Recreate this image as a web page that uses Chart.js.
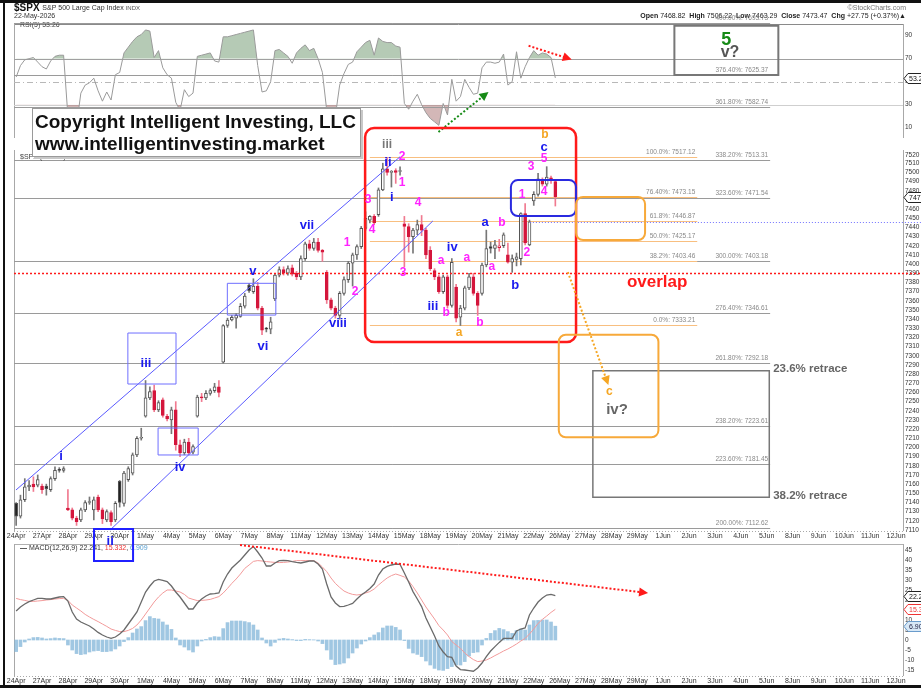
<!DOCTYPE html>
<html>
<head>
<meta charset="utf-8">
<title>$SPX 60 min</title>
<script src="https://cdn.jsdelivr.net/npm/chart.js@4.4.1/dist/chart.umd.min.js"></script>
<style>
  html, body { margin: 0; padding: 0; background: #fff; }
  #page { position: relative; width: 921px; height: 688px; overflow: hidden; background: #fff; }
  #page canvas { position: absolute; left: 0; top: 0; }
</style>
</head>
<body>
<div id="page">
  <canvas id="rsiChart" width="921" height="688"></canvas>
  <canvas id="macdChart" width="921" height="688"></canvas>
  <canvas id="priceChart" width="921" height="688"></canvas>
</div>
<script>
// ---- data (60 min bars, 6 per session) ----
const dayLabels = ['24Apr','27Apr','28Apr','29Apr','30Apr','1May','4May','5May','6May','7May','8May',
  '11May','12May','13May','14May','15May','18May','19May','20May','21May','22May','26May','27May',
  '28May','29May','1Jun','2Jun','3Jun','4Jun','5Jun','8Jun','9Jun','10Jun','11Jun','12Jun'];
const barsPerDay = 6;

const opens = [
  7139, 7125, 7143, 7157, 7160, 7159,
  7158, 7158, 7154, 7166, 7176, 7175,
  7134, 7132, 7123, 7121, 7132, 7140,
  7132, 7146, 7132, 7121, 7129, 7121,
  7163, 7139, 7165, 7172, 7192, 7210,
  7234, 7254, 7262, 7241, 7252, 7234,
  7230, 7241, 7203, 7194, 7206, 7195,
  7234, 7255, 7254, 7259, 7262, 7266,
  7293, 7333, 7339, 7341, 7343, 7354,
  7377, 7370, 7376, 7352, 7330, 7329,
  7362, 7388, 7394, 7390, 7396, 7390,
  7386, 7406, 7422, 7417, 7424, 7415,
  7391, 7361, 7352, 7344, 7368, 7383,
  7401, 7410, 7419, 7439, 7448, 7452,
  7454, 7481, 7504, 7500, 7502, 7501,
  7444, 7441, 7430, 7437, 7443, 7437,
  7415, 7393, 7386, 7370, 7386, 7355,
  7375, 7342, 7352, 7374, 7386, 7368,
  7368, 7399, 7419, 7417, 7418, 7420,
  7410, 7402, 7405, 7406, 7455, 7421,
  7468.82, 7476, 7492, 7487, 7494, 7490
];
const highs = [
  7140, 7148, 7166, 7164, 7168, 7170,
  7160, 7160, 7168, 7179, 7178, 7179,
  7154, 7134, 7125, 7134, 7142, 7146,
  7146, 7148, 7134, 7132, 7131, 7141,
  7164, 7174, 7179, 7194, 7212, 7221,
  7273, 7266, 7268, 7251, 7254, 7236,
  7244, 7250, 7208, 7209, 7210, 7203,
  7257, 7259, 7262, 7264, 7270, 7273,
  7334, 7341, 7344, 7346, 7357, 7368,
  7379, 7384, 7380, 7354, 7331, 7342,
  7390, 7397, 7397, 7398, 7399, 7392,
  7409, 7424, 7426, 7428, 7428, 7416,
  7393, 7363, 7354, 7370, 7386, 7403,
  7412, 7421, 7441, 7457, 7453, 7454,
  7483, 7510, 7517, 7502, 7504, 7506,
  7452, 7444, 7439, 7448, 7453, 7439,
  7419, 7395, 7388, 7388, 7388, 7406,
  7378, 7355, 7376, 7390, 7390, 7370,
  7401, 7437, 7424, 7426, 7427, 7434,
  7423, 7410, 7412, 7456, 7466, 7448,
  7479, 7499, 7494, 7506.22, 7496, 7492
];
const lows = [
  7115, 7123, 7141, 7153, 7152, 7157,
  7150, 7148, 7152, 7164, 7173, 7173,
  7131, 7121, 7115, 7119, 7130, 7138,
  7121, 7130, 7117, 7119, 7115, 7119,
  7135, 7136, 7163, 7170, 7190, 7208,
  7233, 7252, 7239, 7239, 7233, 7229,
  7215, 7197, 7190, 7192, 7192, 7193,
  7233, 7250, 7252, 7257, 7260, 7255,
  7292, 7331, 7338, 7330, 7342, 7352,
  7369, 7368, 7350, 7323, 7326, 7324,
  7360, 7386, 7388, 7388, 7387, 7383,
  7383, 7404, 7415, 7415, 7413, 7403,
  7357, 7350, 7341, 7340, 7366, 7380,
  7376, 7405, 7417, 7437, 7445, 7443,
  7452, 7480, 7497, 7484, 7488, 7497,
  7397, 7413, 7412, 7432, 7431, 7406,
  7393, 7383, 7368, 7368, 7352, 7353,
  7337, 7333, 7350, 7372, 7366, 7344,
  7366, 7397, 7412, 7406, 7414, 7418,
  7401, 7391, 7398, 7399, 7421, 7420,
  7464, 7474, 7485, 7485, 7488, 7463.29
];
const closes = [
  7125, 7143, 7157, 7159, 7157, 7165,
  7154, 7155, 7166, 7175, 7175, 7177,
  7132, 7123, 7119, 7132, 7140, 7141,
  7143, 7132, 7122, 7130, 7119, 7139,
  7140, 7172, 7177, 7192, 7210, 7211,
  7254, 7261, 7241, 7249, 7235, 7231,
  7241, 7203, 7194, 7206, 7194, 7201,
  7255, 7254, 7259, 7262, 7266, 7260,
  7333, 7339, 7342, 7344, 7354, 7365,
  7371, 7376, 7352, 7328, 7329, 7337,
  7388, 7394, 7390, 7395, 7389, 7386,
  7406, 7422, 7417, 7424, 7415, 7413,
  7361, 7352, 7344, 7368, 7383, 7401,
  7410, 7419, 7439, 7450, 7452, 7445,
  7481, 7504, 7500, 7501, 7500, 7502,
  7441, 7430, 7437, 7443, 7437, 7410,
  7395, 7386, 7370, 7386, 7355, 7402,
  7341, 7352, 7374, 7386, 7368, 7355,
  7399, 7417, 7417, 7421, 7420, 7432,
  7402, 7406, 7408, 7455, 7423, 7446,
  7476, 7493, 7487, 7495, 7491, 7473.47
];
const rsi5 = [
  54, 64, 69, 70, 71, 67,
  63, 61, 68, 72, 73, 73,
  20, 15, 12, 40, 47, 49,
  53, 42, 33, 41, 34, 56,
  58, 75, 80, 85, 89, 91,
  95, 94, 71, 77, 62, 56,
  53, 32, 25, 43, 37, 40,
  72, 73, 74, 75, 68, 67,
  89, 89, 90, 91, 92, 93,
  94, 95, 64, 41, 42, 50,
  77, 78, 75, 72, 66, 75,
  79, 82, 77, 79, 70, 58,
  25, 18, 20, 47, 57, 65,
  67, 76, 80, 84, 86, 73,
  88, 85, 84, 84, 81, 80,
  31, 26, 33, 39, 30, 23,
  18, 15, 12, 31, 21, 52,
  33, 37, 52, 45, 39, 40,
  62, 67, 67, 66, 67, 74,
  47, 50, 76, 53, 63, 71,
  77, 73, 75, 74, 71, 53.26
];
const macdLine = [
  14.5, 16.5, 18, 19.2, 20, 20.8,
  20.8, 20.5, 20.5, 21, 21.5, 21.7,
  19.5, 14, 10.5, 9, 8, 7,
  5.5, 3.8, 2.5, 1.5, 0.8, 1.5,
  3, 5, 8, 11, 14, 19,
  24, 27, 29.5, 30.3, 29.8, 29.2,
  27, 24, 21.5, 18.5, 15.5, 15.5,
  18.5, 20.5, 22, 23, 23.2, 23.5,
  29, 33, 36, 38, 40, 42.5,
  45, 46.7, 44, 41, 37, 37,
  38.5, 39.7, 39.8, 39.7, 39.2, 38.8,
  38.5, 39, 39.5, 39.5, 38, 35.5,
  28, 21.5, 18.5, 16.7, 16.8, 17.5,
  18.3, 20.5, 22.5, 24, 25.8, 28,
  32.5, 35.5, 36.8, 37.5, 38, 37.8,
  33.5, 29, 24.2, 20.5, 16.7, 11,
  6.5, 2, -3, -6, -8.3, -8.7,
  -13, -14.8, -15, -15.3, -15.6, -14,
  -11.5, -8.3, -5.5, -3.3, -1.2, 0.8,
  0.8, 0.8, 4.5, 5.5, 6, 12.5,
  16, 19, 21, 22.5, 22.8, 22.241
];
const signalLine = [
  20.8, 20.2, 19.8, 19.3, 19.3, 19.5,
  19.7, 20, 20.2, 20.5, 20.7, 20.8,
  19.8, 17.5, 16, 14.5, 12.8, 11.5,
  10.3, 9.2, 8, 6.8, 5.5, 4.8,
  4.2, 4.2, 4.8, 5.8, 7.5, 10,
  13, 16, 19, 21.5, 23.5, 25,
  25, 24.5, 24, 22.8, 21, 20.3,
  19.7, 19.8, 20, 20.3, 21, 21.7,
  23.5, 25.8, 28.3, 30.5, 33, 35.8,
  37.5, 39.3, 39.7, 39.5, 39.2, 39,
  38.8, 38.7, 38.8, 39, 39.3, 39.7,
  39.7, 39.7, 39.7, 39.7, 38.5, 36.5,
  34.2, 31, 28.3, 26.3, 24.5, 23.5,
  22.8, 22.5, 22.8, 23.5, 24.2, 25.5,
  27.5, 29.3, 31, 32.2, 33, 32.3,
  31.5, 29.5, 26.7, 23.5, 20, 16.5,
  13.5, 10.5, 7.2, 5, 2.5, -0.8,
  -2.5, -4.2, -6.5, -8.3, -9.8, -10.8,
  -10.5, -10, -9, -7.8, -6.7, -5.5,
  -4.5, -3.3, -2, -0.5, 0.8, 3,
  5.5, 8.3, 10.3, 12, 13.8, 15.332
];
const histogram = [
  -5.8, -3.3, -1, 0.5, 1.2, 1.3,
  1, 0.5, 0.7, 1, 0.8, 0.7,
  -2.5, -5, -6.8, -7.3, -7, -6,
  -5.5, -5.3, -5.8, -5.8, -5.5, -4.5,
  -3, -0.8, 1.2, 3.5, 5.5, 6.7,
  9.7, 11.7, 10.8, 10.5, 9, 7.5,
  5.3, 1, -2.5, -3.5, -5, -6,
  -3, -0.5, 0.3, 1.2, 1.7, 1.5,
  5.7, 8.7, 9.5, 9.5, 9.5, 9.2,
  8.7, 7.5, 5, 1, -1.5, -3,
  -1.2, 0.5, 0.8, 0.5, 0.2, -0.3,
  -0.3, 0.3, 0.2, 0.1, -0.5, -1.8,
  -5, -9.7, -12.3, -12, -11.5, -9,
  -6.5, -4, -2, -0.5, 1.2, 2.5,
  3.7, 6, 7, 7, 6.3, 5,
  -0.3, -4.2, -6.5, -7.2, -8.3, -10.5,
  -12.5, -14.2, -15, -15.2, -14.3, -13.3,
  -12.5, -12.5, -10.8, -8, -6.3, -6,
  -2.5, 0.8, 3.3, 4.7, 5.8, 5.2,
  4.2, 3.3, 4.7, 5.5, 5, 7.5,
  9.7, 9.8, 10, 10, 9, 6.909
];

const priceTicks = [7110, 7120, 7130, 7140, 7150, 7160, 7170, 7180, 7190, 7200, 7210, 7220, 7230, 7240,
  7250, 7260, 7270, 7280, 7290, 7300, 7310, 7320, 7330, 7340, 7350, 7360, 7370, 7380, 7390, 7400,
  7410, 7420, 7430, 7440, 7450, 7460, 7470, 7480, 7490, 7500, 7510, 7520];
const rsiTicks = [10, 30, 50, 70, 90];
const macdTicks = [-15, -10, -5, 0, 5, 10, 15, 20, 25, 30, 35, 40, 45];

// fibonacci levels drawn on the chart
const fibExtension = [['400.00%', 7693.73], ['376.40%', 7625.37], ['361.80%', 7582.74], ['338.20%', 7513.31],
  ['323.60%', 7471.54], ['300.00%', 7403.18], ['276.40%', 7346.61], ['261.80%', 7292.18],
  ['238.20%', 7223.61], ['223.60%', 7181.45], ['200.00%', 7112.62]];
const fibRetracement = [['100.0%', 7517.12], ['76.40%', 7473.15], ['61.8%', 7446.87], ['50.0%', 7425.17],
  ['38.2%', 7403.46], ['0.0%', 7333.21]];
const overlapLevel = 7390;
const waveTwoLevel = 7446;

// ---- look ----
const FONT = '"Liberation Sans", Arial, sans-serif';
const BLUE = '#1a1aee', MAGENTA = '#ff22ff', ORANGE = '#f5a623', GREY = '#666666', GREEN = '#168a16', RED = '#ff1a1a';
Chart.defaults.font.family = FONT;

// annotation layout, in (bar slot, price) units
const notes = {
  fibExtEnd: 174.8, fibRetStart: 82, fibRetEnd: 157.9, waveTwoFrom: 119.1,
  channels: [[-0.04, 7153.6, 89, 7517.8], [21.8, 7110, 96.6, 7447]],
  boxes: [
    [25.9, 7324.8, 37.06, 7269.2, '#6f6fff', 1, 0],
    [32.9, 7221.2, 42.2, 7191.8, '#6f6fff', 1, 0],
    [48.96, 7379, 60.2, 7344.4, '#6f6fff', 1, 0],
    [18.05, 7111.1, 27.1, 7076.2, '#2020ff', 2, 0],
    [133.7, 7283.7, 174.6, 7145.6, '#777', 1.5, 0],
    [152.6, 7690, 176.7, 7625.37, '#777', 2, 0],
    [80.9, 7555.5, 129.8, 7315.0, RED, 2.5, 9],
    [114.7, 7491.6, 129.8, 7452.4, '#2a2ae0', 2, 7],
    [129.8, 7473.1, 145.8, 7426.2, '#f7a93a', 2, 7],
    [125.8, 7322.9, 148.9, 7211.1, '#f7a93a', 2, 7]
  ],
  arrow: [127.9, 7391.3, 137.3, 7268.1],
  labels: [
    ['i', 10.4, 7190.7, BLUE], ['ii', 21.8, 7098, BLUE], ['iii', 30.1, 7292.1, BLUE], ['iv', 38, 7178.7, BLUE],
    ['v', 54.9, 7392.4, BLUE], ['vi', 57.2, 7310.6, BLUE], ['vii', 67.4, 7442.6, BLUE], ['viii', 74.6, 7335.7, BLUE],
    ['iii', 86, 7533.2, '#777'], ['ii', 86.2, 7511.3, BLUE], ['i', 87.1, 7473.1, BLUE], ['iii', 96.6, 7354.2, BLUE],
    ['iv', 101.1, 7418.6, BLUE], ['a', 108.7, 7445.8, BLUE], ['b', 115.7, 7377.1, BLUE], ['c', 122.4, 7530.5, BLUE],
    ['2', 89.5, 7517.4, MAGENTA], ['1', 89.5, 7488.4, MAGENTA], ['3', 81.6, 7469.8, MAGENTA], ['4', 82.5, 7437.1, MAGENTA],
    ['1', 76.7, 7422.9, MAGENTA], ['2', 78.6, 7369.5, MAGENTA], ['4', 93.2, 7466.6, MAGENTA], ['3', 89.7, 7390.2, MAGENTA],
    ['a', 98.5, 7403.3, MAGENTA], ['a', 104.5, 7406.6, MAGENTA], ['a', 110.3, 7396.8, MAGENTA],
    ['b', 99.7, 7346.6, MAGENTA], ['b', 107.5, 7335.7, MAGENTA], ['b', 112.6, 7444.8, MAGENTA],
    ['1', 117.3, 7475.3, MAGENTA], ['2', 118.4, 7412, MAGENTA], ['3', 119.4, 7505.8, MAGENTA],
    ['4', 122.4, 7478.6, MAGENTA], ['5', 122.4, 7514.8, MAGENTA],
    ['b', 122.6, 7546.3, ORANGE], ['a', 102.7, 7324.8, ORANGE], ['c', 137.5, 7260.5, ORANGE]
  ],
  bigLabels: [
    ['iv?', 139.3, 7240.8, GREY, 'bold 15px', 'center'],
    ['23.6% retrace', 175.5, 7285.5, GREY, 'bold 11.5px', 'left'],
    ['38.2% retrace', 175.5, 7147, GREY, 'bold 11.5px', 'left'],
    ['5', 164.6, 7671.1, GREEN, 'bold 18px', 'center'],
    ['v?', 165.5, 7654, '#555', 'bold 16px', 'center'],
    ['overlap', 148.6, 7380.4, RED, 'bold 17px', 'center']
  ]
};

// ---- helpers ----
function seg(ctx, x1, y1, x2, y2, color, width, dash) {
  ctx.save();
  ctx.beginPath();
  ctx.strokeStyle = color;
  ctx.lineWidth = width;
  ctx.setLineDash(dash || []);
  ctx.moveTo(x1, y1);
  ctx.lineTo(x2, y2);
  ctx.stroke();
  ctx.restore();
}
function arrow(ctx, x1, y1, x2, y2, color) {
  const a = Math.atan2(y2 - y1, x2 - x1);
  seg(ctx, x1, y1, x2 - Math.cos(a) * 6, y2 - Math.sin(a) * 6, color, 2, [2, 2]);
  ctx.save();
  ctx.fillStyle = color;
  ctx.beginPath();
  ctx.moveTo(x2, y2);
  ctx.lineTo(x2 - 9 * Math.cos(a) + 4.5 * Math.sin(a), y2 - 9 * Math.sin(a) - 4.5 * Math.cos(a));
  ctx.lineTo(x2 - 9 * Math.cos(a) - 4.5 * Math.sin(a), y2 - 9 * Math.sin(a) + 4.5 * Math.cos(a));
  ctx.closePath();
  ctx.fill();
  ctx.restore();
}
function frame(ctx, x1, y1, x2, y2, color, width, radius) {
  ctx.save();
  ctx.strokeStyle = color;
  ctx.lineWidth = width;
  ctx.beginPath();
  if (radius) ctx.roundRect(x1, y1, x2 - x1, y2 - y1, radius);
  else ctx.rect(x1, y1, x2 - x1, y2 - y1);
  ctx.stroke();
  ctx.restore();
}
function label(ctx, str, x, y, color, font, align) {
  ctx.save();
  ctx.fillStyle = color;
  ctx.font = font;
  ctx.textAlign = align || 'center';
  ctx.textBaseline = 'middle';
  ctx.fillText(str, x, y);
  ctx.restore();
}
function tag(ctx, x, y, str, stroke, fill, color) {
  ctx.save();
  ctx.beginPath();
  ctx.moveTo(x, y);
  ctx.lineTo(x + 4, y - 5);
  ctx.lineTo(923, y - 5);
  ctx.lineTo(923, y + 5);
  ctx.lineTo(x + 4, y + 5);
  ctx.closePath();
  ctx.fillStyle = fill;
  ctx.fill();
  ctx.strokeStyle = stroke;
  ctx.lineWidth = 1;
  ctx.stroke();
  ctx.restore();
  label(ctx, str, x + 5, y + 0.5, color, '7px ' + FONT, 'left');
}
function richLine(ctx, parts, x, y, alignRight) {
  ctx.save();
  ctx.textBaseline = 'middle';
  let w = 0;
  parts.forEach(p => { ctx.font = p[1]; w += ctx.measureText(p[0]).width; });
  let cx = alignRight ? x - w : x;
  parts.forEach(p => {
    ctx.font = p[1];
    ctx.fillStyle = p[2] || '#222';
    ctx.textAlign = 'left';
    ctx.fillText(p[0], cx, y);
    cx += ctx.measureText(p[0]).width;
  });
  ctx.restore();
}

// price axis that squeezes the area above the wave iii high, as the source chart does
class PriceScale extends Chart.LinearScale {
  getPixelForValue(value) {
    const base = super.getPixelForValue(value);
    const knee = this.options.knee;
    if (!knee || value <= knee) return base;
    const k = super.getPixelForValue(knee);
    return k - (k - base) * this.options.squeeze;
  }
}
PriceScale.id = 'pricescale';
PriceScale.defaults = {};
Chart.register(PriceScale);

const slots = opens.map((_, i) => i);
const xMax = 205.6;

function dateAxis(show) {
  return {
    type: 'linear', display: show, min: -0.5, max: xMax, offset: false,
    grid: { display: false, drawTicks: false }, border: { display: false },
    afterBuildTicks: s => { s.ticks = dayLabels.map((d, k) => ({ value: k * barsPerDay })); },
    afterFit: s => { s.height = 10; },
    ticks: {
      autoSkip: false, maxRotation: 0, padding: 1, color: '#333', font: { size: 7 },
      callback: v => dayLabels[Math.round(v / barsPerDay)]
    }
  };
}
function valueAxis(min, max, list, extra) {
  return Object.assign({
    position: 'right', min: min, max: max,
    grid: { display: false, drawTicks: false }, border: { display: false },
    afterBuildTicks: s => { s.ticks = list.map(v => ({ value: v })); },
    afterFit: s => { s.width = 18; },
    ticks: { autoSkip: false, padding: 2, color: '#333', font: { size: 6.5 }, callback: v => String(v) }
  }, extra || {});
}

// StockCharts colouring: black/red vs previous close, hollow/filled vs open
const candleLook = slots.map(i => {
  const prev = i ? closes[i - 1] : lows[0];
  const up = closes[i] >= prev;
  const filled = closes[i] < opens[i];
  return {
    fill: filled ? (up ? '#222' : '#d4163c') : '#ffffff',
    line: up ? '#555' : '#d4163c',
    wick: up ? '#777' : '#f07a90'
  };
});

// ---- price panel ----
const pricePlugin = {
  id: 'priceMarks',
  beforeDatasetsDraw(chart) {
    const { ctx, chartArea: a, scales: { x, y } } = chart;
    const X = v => x.getPixelForValue(v);
    const Y = v => Math.round(y.getPixelForValue(v)) + 0.5;
    seg(ctx, a.left + 0.5, a.top, a.left + 0.5, a.bottom, '#a8a8a8', 1);
    seg(ctx, a.right + 0.5, a.top, a.right + 0.5, a.bottom, '#a8a8a8', 1);
    seg(ctx, a.left, a.bottom + 0.5, a.right, a.bottom + 0.5, '#a8a8a8', 1, [1, 2]);
    fibExtension.forEach(([name, v]) => {
      const py = Y(v);
      seg(ctx, a.left, py, X(notes.fibExtEnd), py, '#9a9a9a', 1);
      label(ctx, name + ': ' + v.toFixed(2), X(notes.fibExtEnd) - 2, py - 5, '#888', '6.5px ' + FONT, 'right');
    });
    fibRetracement.forEach(([name, v]) => {
      const py = Y(v);
      seg(ctx, X(notes.fibRetStart), py, X(notes.fibRetEnd), py, '#f8bf80', 1);
      label(ctx, name + ': ' + v.toFixed(2), X(notes.fibRetEnd) - 2, py - 5, '#888', '6.5px ' + FONT, 'right');
    });
  },
  afterDatasetsDraw(chart) {
    const { ctx, chartArea: a, scales: { x, y } } = chart;
    const X = v => x.getPixelForValue(v);
    const Y = v => y.getPixelForValue(v);
    seg(ctx, a.left, Math.round(Y(overlapLevel)) + 0.5, 921, Math.round(Y(overlapLevel)) + 0.5, RED, 1.5, [2, 2]);
    seg(ctx, X(notes.waveTwoFrom), Math.round(Y(waveTwoLevel)) + 0.5, 921, Math.round(Y(waveTwoLevel)) + 0.5, '#7070ff', 1, [1, 2]);
    notes.channels.forEach(c => seg(ctx, X(c[0]), Y(c[1]), X(c[2]), Y(c[3]), '#5a5aff', 1));
    notes.boxes.forEach(b => frame(ctx, X(b[0]), Y(b[1]), X(b[2]), Y(b[3]), b[4], b[5], b[6]));
    const ar = notes.arrow;
    arrow(ctx, X(ar[0]), Y(ar[1]), X(ar[2]), Y(ar[3]), ORANGE);
    notes.labels.forEach(l => {
      const size = l[3] === BLUE ? 13 : 12;
      label(ctx, l[0], X(l[1]), Y(l[2]), l[3], 'bold ' + size + 'px ' + FONT);
    });
    notes.bigLabels.forEach(l => label(ctx, l[0], X(l[1]), Y(l[2]), l[3], l[4] + ' ' + FONT, l[5]));
  },
  afterDraw(chart) {
    const { ctx, chartArea: a, scales: { y } } = chart;
    label(ctx, '$SPX (60 min) 7473.47', a.left + 6, a.top + 7, '#444', '7px ' + FONT, 'left');
    // copyright box
    ctx.save();
    ctx.fillStyle = '#c8c8c8';
    ctx.fillRect(34, 110, 329, 49);
    ctx.fillStyle = '#fff';
    ctx.fillRect(32, 108, 329, 49);
    ctx.strokeStyle = '#9a9a9a';
    ctx.lineWidth = 1;
    ctx.strokeRect(32.5, 108.5, 328, 48);
    ctx.restore();
    label(ctx, 'Copyright Intelligent Investing, LLC', 35, 123, '#111', 'bold 19px ' + FONT, 'left');
    label(ctx, 'www.intelligentinvesting.market', 35, 145, '#111', 'bold 19px ' + FONT, 'left');
    const last = closes[closes.length - 1];
    tag(ctx, a.right + 1, Math.round(y.getPixelForValue(last)) + 0.5, last.toFixed(2), '#222', '#fff', '#111');
  }
};

new Chart(document.getElementById('priceChart'), {
  type: 'bar',
  data: {
    datasets: [
      {
        label: 'High-low', order: 2, grouped: false, barThickness: 1,
        data: slots.map(i => ({ x: i, y: [lows[i], highs[i]] })),
        backgroundColor: candleLook.map(c => c.wick)
      },
      {
        label: 'Open-close', order: 1, grouped: false, barThickness: 3, minBarLength: 1,
        data: slots.map(i => ({ x: i, y: [opens[i], closes[i]] })),
        backgroundColor: candleLook.map(c => c.fill),
        borderColor: candleLook.map(c => c.line),
        borderWidth: 1, borderSkipped: false
      }
    ]
  },
  options: {
    responsive: false, animation: false, devicePixelRatio: 1,
    layout: { padding: { left: 14, top: 150, right: 0, bottom: 147 } },
    plugins: { legend: { display: false }, tooltip: { enabled: false } },
    scales: {
      x: dateAxis(true),
      y: valueAxis(7108.9, 7524.4, priceTicks, { type: 'pricescale', knee: 7513.31, squeeze: 0.83 })
    }
  },
  plugins: [pricePlugin]
});

// ---- RSI panel ----
const rsiPlugin = {
  id: 'rsiMarks',
  beforeDatasetsDraw(chart) {
    const { ctx, chartArea: a, scales: { y } } = chart;
    const Y = v => Math.round(y.getPixelForValue(v)) + 0.5;
    seg(ctx, a.left, a.top + 0.5, a.right, a.top + 0.5, '#8a8a8a', 1);
    seg(ctx, a.left + 0.5, a.top, a.left + 0.5, a.bottom, '#a8a8a8', 1);
    seg(ctx, a.right + 0.5, a.top, a.right + 0.5, a.bottom, '#a8a8a8', 1);
    seg(ctx, a.left, Y(70), a.right, Y(70), '#a0a0a0', 1);
    seg(ctx, a.left, Y(50), a.right, Y(50), '#b8b8b8', 1, [6, 3, 1, 3]);
    seg(ctx, a.left, Y(30), a.right, Y(30), '#cfcfcf', 1);
  },
  afterDraw(chart) {
    const { ctx, chartArea: a, scales: { x, y } } = chart;
    const X = v => x.getPixelForValue(v);
    const Y = v => y.getPixelForValue(v);
    label(ctx, 'RSI(5) 53.26', a.left + 6, a.top + 1, '#444', '7px ' + FONT, 'left');
    arrow(ctx, X(97.9), Y(6.2), X(109.5), Y(41), GREEN);
    arrow(ctx, X(118.8), Y(81.2), X(128.8), Y(69.2), RED);
    const last = rsi5[rsi5.length - 1];
    tag(ctx, a.right + 1, Math.round(Y(last)) + 0.5, last.toFixed(2), '#222', '#fff', '#111');
    // header
    richLine(ctx, [['$SPX ', 'bold 10px ' + FONT, '#111'], ['S&P 500 Large Cap Index ', '7px ' + FONT, '#333'],
      ['INDX', '6px ' + FONT, '#555']], 14, 8, false);
    label(ctx, '22-May-2026', 14, 16, '#333', '7px ' + FONT, 'left');
    label(ctx, '\u00a9StockCharts.com', 906, 8, '#777', '7px ' + FONT, 'right');
    const b = 'bold 7px ' + FONT, n = '7px ' + FONT;
    richLine(ctx, [['Open', b], [' 7468.82  ', n], ['High', b], [' 7506.22  ', n], ['Low', b], [' 7463.29  ', n],
      ['Close', b], [' 7473.47  ', n], ['Chg', b], [' +27.75 (+0.37%)\u25b2', n]], 906, 16, true);
    // outer frame
    ctx.save();
    ctx.fillStyle = '#111';
    ctx.fillRect(0, 0, 921, 3);
    ctx.fillRect(3, 0, 2, 688);
    ctx.fillRect(0, 685, 921, 3);
    ctx.restore();
  }
};

new Chart(document.getElementById('rsiChart'), {
  type: 'line',
  data: {
    datasets: [
      {
        label: 'RSI(5)', data: slots.map(i => ({ x: i, y: rsi5[i] })),
        borderColor: '#9a9a9a', borderWidth: 1, pointRadius: 0, tension: 0,
        fill: { target: { value: 70 }, above: 'rgba(120,158,120,0.55)', below: 'rgba(0,0,0,0)' }
      },
      {
        label: 'oversold', data: slots.map(i => ({ x: i, y: rsi5[i] })),
        borderColor: 'rgba(0,0,0,0)', borderWidth: 0, pointRadius: 0, tension: 0,
        fill: { target: { value: 30 }, above: 'rgba(0,0,0,0)', below: 'rgba(168,112,112,0.5)' }
      }
    ]
  },
  options: {
    responsive: false, animation: false, devicePixelRatio: 1,
    layout: { padding: { left: 14, top: 24, right: 0, bottom: 540 } },
    plugins: { legend: { display: false }, tooltip: { enabled: false } },
    scales: { x: dateAxis(false), y: valueAxis(0.96, 100.16, rsiTicks) }
  },
  plugins: [rsiPlugin]
});

// ---- MACD panel ----
const macdPlugin = {
  id: 'macdMarks',
  beforeDatasetsDraw(chart) {
    const { ctx, chartArea: a } = chart;
    seg(ctx, a.left, a.top + 0.5, a.right, a.top + 0.5, '#b0b0b0', 1);
    seg(ctx, a.left + 0.5, a.top, a.left + 0.5, a.bottom, '#a8a8a8', 1);
    seg(ctx, a.right + 0.5, a.top, a.right + 0.5, a.bottom, '#a8a8a8', 1);
    seg(ctx, a.left, a.bottom + 0.5, a.right, a.bottom + 0.5, '#a8a8a8', 1, [1, 2]);
  },
  afterDraw(chart) {
    const { ctx, chartArea: a, scales: { x, y } } = chart;
    const X = v => x.getPixelForValue(v);
    const Y = v => y.getPixelForValue(v);
    const n = '7px ' + FONT;
    richLine(ctx, [['\u2014 ', 'bold 7px ' + FONT, '#222'], ['MACD(12,26,9) 22.241', n, '#333'], [', ', n, '#333'],
      ['15.332', n, '#ee3333'], [', ', n, '#333'], ['6.909', n, '#5aa0d0']], a.left + 6, a.top + 4, false);
    arrow(ctx, X(51.9), Y(47.5), X(146.5), Y(23.5), RED);
    const m = macdLine[macdLine.length - 1], s = signalLine[signalLine.length - 1], h = histogram[histogram.length - 1];
    tag(ctx, a.right + 1, Math.round(Y(m)) + 0.5, m.toFixed(3), '#222', '#fff', '#111');
    tag(ctx, a.right + 1, Math.round(Y(s)) + 0.5, s.toFixed(3), '#ee3333', '#fff', '#ee3333');
    tag(ctx, a.right + 1, Math.round(Y(h)) + 0.5, h.toFixed(3), '#6a9ccc', '#d8e8f6', '#224');
  }
};

new Chart(document.getElementById('macdChart'), {
  type: 'bar',
  data: {
    datasets: [
      {
        type: 'line', label: 'MACD', order: 1, data: slots.map(i => ({ x: i, y: macdLine[i] })),
        borderColor: '#6a6a6a', borderWidth: 1.3, pointRadius: 0, tension: 0
      },
      {
        type: 'line', label: 'Signal', order: 2, data: slots.map(i => ({ x: i, y: signalLine[i] })),
        borderColor: '#f29a9a', borderWidth: 1, pointRadius: 0, tension: 0
      },
      {
        type: 'bar', label: 'Histogram', order: 3, barThickness: 3, grouped: false,
        data: slots.map(i => ({ x: i, y: histogram[i] })),
        backgroundColor: 'rgba(128,180,216,0.75)'
      }
    ]
  },
  options: {
    responsive: false, animation: false, devicePixelRatio: 1,
    layout: { padding: { left: 14, top: 544, right: 0, bottom: 2 } },
    plugins: { legend: { display: false }, tooltip: { enabled: false } },
    scales: { x: dateAxis(true), y: valueAxis(-18, 48, macdTicks) }
  },
  plugins: [macdPlugin]
});
</script>
</body>
</html>
